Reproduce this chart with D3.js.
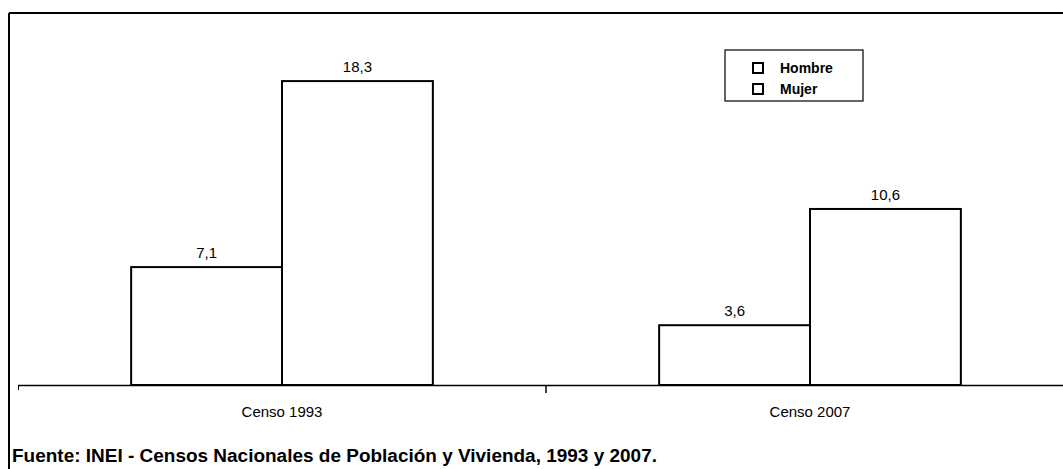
<!DOCTYPE html>
<html>
<head>
<meta charset="utf-8">
<script src="https://cdn.jsdelivr.net/npm/d3@7"></script>
<style>
  body { margin: 0; background: #fff; }
  svg { display: block; }
  .lbl { font-family: "Liberation Sans Narrow", "Arial Narrow", "Liberation Sans", sans-serif; }
</style>
</head>
<body>
<svg id="chart" width="1063" height="469"></svg>
<script>
// data
const categories = ["Censo 1993", "Censo 2007"]
const seriesNames = ["Hombre", "Mujer"]
const hombre = [7.1, 3.6]
const mujer = [18.3, 10.6]
const valueLabels = [["7,1", "18,3"], ["3,6", "10,6"]]
const footer = "Fuente: INEI - Censos Nacionales de Población y Vivienda, 1993 y 2007."

const svg = d3.select("#chart")

// frame (scanned page: top and left rule)
svg.append("line").attr("x1", 9).attr("y1", 13).attr("x2", 1063).attr("y2", 13)
  .attr("stroke", "#000").attr("stroke-width", 2)
svg.append("line").attr("x1", 9).attr("y1", 13).attr("x2", 9).attr("y2", 469)
  .attr("stroke", "#000").attr("stroke-width", 2)

const baseY = 385
const x0 = d3.scaleBand().domain(categories).range([18, 1074]).paddingInner(0).paddingOuter(0)
const x1 = d3.scaleBand().domain(seriesNames).range([0, x0.bandwidth()]).paddingInner(0).paddingOuter(0.75)
const y = d3.scaleLinear().domain([0, 22.4]).range([baseY, 13])

const rows = categories.map((c, i) => ({
  cat: c,
  vals: [
    { s: "Hombre", v: hombre[i], t: valueLabels[i][0] },
    { s: "Mujer", v: mujer[i], t: valueLabels[i][1] }
  ]
}))

const groups = svg.selectAll("g.cat").data(rows).enter().append("g")
  .attr("class", "cat")
  .attr("transform", d => `translate(${x0(d.cat)},0)`)

groups.selectAll("rect").data(d => d.vals).enter().append("rect")
  .attr("x", d => x1(d.s))
  .attr("y", d => y(d.v))
  .attr("width", x1.bandwidth())
  .attr("height", d => baseY - y(d.v))
  .attr("fill", "#fff")
  .attr("stroke", "#000")
  .attr("stroke-width", 2)

groups.selectAll("text.val").data(d => d.vals).enter().append("text")
  .attr("class", "val lbl")
  .attr("x", d => x1(d.s) + x1.bandwidth() / 2)
  .attr("y", d => y(d.v) - 9)
  .attr("text-anchor", "middle")
  .attr("font-size", 15)
  .text(d => d.t)

// x axis
const xAxis = svg.append("g")
  .attr("transform", `translate(0,${baseY})`)
  .call(d3.axisBottom(x0).tickSize(0).tickPadding(21))
xAxis.select(".domain").attr("stroke", "#000").attr("stroke-width", 1.5)
xAxis.selectAll("text").attr("class", "lbl").attr("font-size", 15).attr("fill", "#000")
// category separators
svg.selectAll("line.sep").data([categories[0]]).enter().append("line")
  .attr("class", "sep")
  .attr("x1", d => x0(d) + x0.bandwidth()).attr("x2", d => x0(d) + x0.bandwidth())
  .attr("y1", baseY).attr("y2", baseY + 8)
  .attr("stroke", "#000").attr("stroke-width", 1.5)
svg.append("line").attr("x1", 18.5).attr("x2", 18.5).attr("y1", baseY).attr("y2", baseY + 5)
  .attr("stroke", "#000").attr("stroke-width", 1)

// legend
const legend = svg.append("g").attr("transform", "translate(725,50)")
legend.append("rect").attr("width", 138).attr("height", 51)
  .attr("fill", "#fff").attr("stroke", "#000").attr("stroke-width", 1.2)
const li = legend.selectAll("g.item").data(seriesNames).enter().append("g")
  .attr("class", "item")
  .attr("transform", (d, i) => `translate(0,${18 + i * 21})`)
li.append("rect").attr("x", 28).attr("y", -5).attr("width", 10).attr("height", 10)
  .attr("fill", "#fff").attr("stroke", "#000").attr("stroke-width", 2)
li.append("text").attr("class", "lbl").attr("x", 55).attr("y", 5)
  .attr("font-size", 14).attr("font-weight", "bold").text(d => d)

// footer
svg.append("text").attr("class", "lbl")
  .attr("x", 12).attr("y", 462)
  .attr("font-size", 18).attr("font-weight", "bold")
  .attr("textLength", 645).attr("lengthAdjust", "spacingAndGlyphs")
  .text(footer)
</script>
</body>
</html>
